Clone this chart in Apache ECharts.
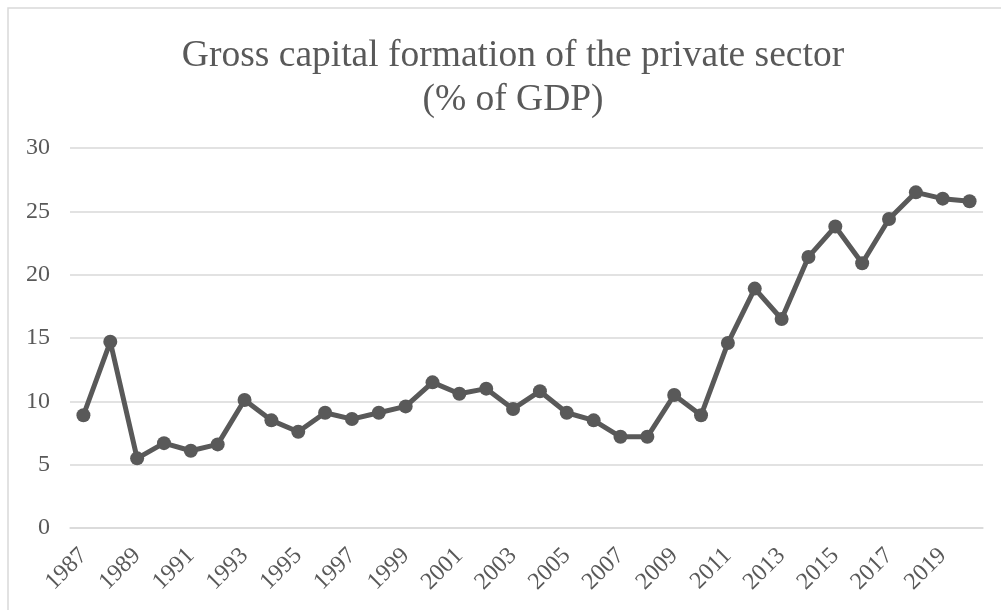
<!DOCTYPE html>
<html>
<head>
<meta charset="utf-8">
<script src="https://cdn.jsdelivr.net/npm/echarts@6/dist/echarts.min.js"></script>
<style>
  html, body { margin: 0; padding: 0; background: #ffffff; }
  #chart { width: 1001px; height: 610px; }
</style>
</head>
<body>
<div id="chart"></div>
<script>
// Private-sector gross capital formation, % of GDP, by year
const years = ['1987','1988','1989','1990','1991','1992','1993','1994','1995','1996',
               '1997','1998','1999','2000','2001','2002','2003','2004','2005','2006',
               '2007','2008','2009','2010','2011','2012','2013','2014','2015','2016',
               '2017','2018','2019','2020'];
const capitalFormation = [8.9, 14.7, 5.5, 6.7, 6.1, 6.6, 10.1, 8.5, 7.6, 9.1,
                          8.6, 9.1, 9.6, 11.5, 10.6, 11.0, 9.4, 10.8, 9.1, 8.5,
                          7.2, 7.2, 10.5, 8.9, 14.6, 18.9, 16.5, 21.4, 23.8, 20.9,
                          24.4, 26.5, 26.0, 25.8];
const yTicks = { min: 0, max: 30, interval: 5 };

const ink = '#595959';
const gridGrey = '#d9d9d9';
const serif = '"Liberation Serif", "Times New Roman", serif';

const chart = echarts.init(document.getElementById('chart'));
chart.setOption({
  backgroundColor: '#ffffff',
  animation: false,
  title: {
    text: 'Gross capital formation of the private sector\n(% of GDP)',
    left: 508,
    top: 29,
    textAlign: 'center',
    textStyle: {
      fontFamily: serif,
      fontSize: 37.5,
      fontWeight: 'normal',
      lineHeight: 44,
      color: ink
    }
  },
  graphic: [{
    type: 'rect',
    shape: { x: 8, y: 8, width: 1200, height: 800 },
    style: { fill: 'none', stroke: gridGrey, lineWidth: 1.5 },
    silent: true
  }],
  grid: { left: 70, right: 18, top: 148, bottom: 82, containLabel: false },
  xAxis: {
    type: 'category',
    data: years,
    boundaryGap: true,
    axisLine: { show: true, lineStyle: { color: gridGrey, width: 1.5 } },
    axisTick: { show: false },
    axisLabel: {
      interval: 1,
      rotate: 45,
      margin: 24,
      fontFamily: serif,
      fontSize: 24,
      color: ink
    },
    splitLine: { show: false }
  },
  yAxis: {
    type: 'value',
    min: yTicks.min,
    max: yTicks.max,
    interval: yTicks.interval,
    axisLine: { show: false },
    axisTick: { show: false },
    axisLabel: {
      margin: 20,
      fontFamily: serif,
      fontSize: 24,
      color: ink
    },
    splitLine: { show: true, lineStyle: { color: gridGrey, width: 1.5 } }
  },
  series: [{
    type: 'line',
    data: capitalFormation,
    symbol: 'circle',
    symbolSize: 14,
    lineStyle: { color: ink, width: 5 },
    itemStyle: { color: ink },
    z: 3
  }]
});
</script>
</body>
</html>
